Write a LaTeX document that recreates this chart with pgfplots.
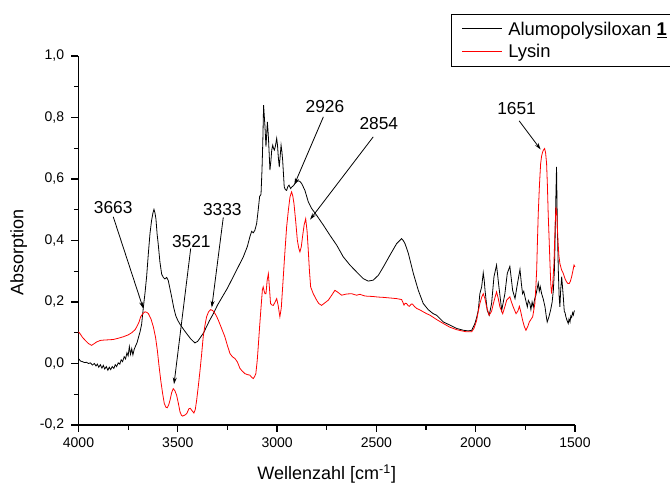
\documentclass[border=0pt]{standalone}
\usepackage{pgfplots}
\pgfplotsset{compat=1.18}
\usepackage{fontspec}
\setmainfont{Liberation Sans}
\usetikzlibrary{arrows.meta}

% spectra (wavenumber, absorption)
\pgfplotstableread{
wn A
4000 0.016
3995 0.012
3990 0.008
3980 0.006
3970 0.003
3960 0.004
3950 0.000
3940 0.002
3930 -0.005
3920 0.000
3912 -0.008
3905 -0.002
3898 -0.012
3890 -0.004
3882 -0.015
3875 -0.006
3868 -0.018
3860 -0.010
3852 -0.022
3845 -0.012
3838 -0.020
3830 -0.010
3822 -0.016
3815 -0.004
3808 -0.010
3800 0.002
3792 -0.002
3785 0.012
3778 0.006
3770 0.022
3763 0.015
3756 0.035
3750 0.025
3744 0.055
3738 0.030
3732 0.048
3726 0.028
3720 0.045
3712 0.058
3705 0.068
3698 0.085
3690 0.103
3682 0.128
3674 0.179
3665 0.23
3657 0.282
3648 0.36
3640 0.423
3632 0.465
3625 0.49
3620 0.501
3615 0.49
3610 0.47
3604 0.42
3598 0.385
3590 0.33
3581 0.29
3573 0.28
3565 0.275
3556 0.28
3548 0.27
3540 0.245
3531 0.217
3520 0.18
3510 0.155
3500 0.14
3489 0.128
3470 0.11
3455 0.097
3435 0.08
3414 0.067
3400 0.072
3388 0.083
3370 0.10
3355 0.12
3340 0.14
3321 0.162
3300 0.19
3271 0.222
3250 0.245
3221 0.282
3195 0.315
3170 0.347
3150 0.38
3137 0.412
3128 0.43
3120 0.425
3112 0.433
3103 0.455
3095 0.50
3088 0.543
3081 0.55
3076 0.63
3072 0.72
3068 0.84
3064 0.80
3061 0.77
3056 0.705
3052 0.75
3049 0.786
3046 0.76
3043 0.726
3036 0.629
3031 0.66
3027 0.694
3022 0.71
3018 0.70
3014 0.694
3009 0.705
3002 0.732
2998 0.71
2994 0.672
2989 0.639
2985 0.67
2980 0.71
2976 0.69
2972 0.661
2964 0.574
2958 0.565
2952 0.563
2946 0.575
2940 0.580
2932 0.569
2926 0.574
2918 0.578
2910 0.585
2900 0.592
2893 0.594
2885 0.592
2876 0.585
2860 0.563
2843 0.526
2826 0.504
2801 0.482
2767 0.450
2734 0.417
2700 0.385
2667 0.347
2633 0.320
2600 0.298
2580 0.285
2566 0.276
2541 0.268
2516 0.271
2490 0.287
2465 0.314
2432 0.352
2398 0.390
2373 0.406
2365 0.400
2356 0.390
2339 0.358
2314 0.293
2289 0.238
2264 0.195
2239 0.175
2214 0.162
2197 0.157
2180 0.146
2163 0.135
2130 0.125
2096 0.114
2062 0.108
2037 0.106
2020 0.108
2004 0.130
1995 0.15
1987 0.173
1979 0.227
1970 0.249
1962 0.295
1957 0.27
1953 0.238
1942 0.173
1932 0.157
1920 0.195
1908 0.282
1895 0.320
1883 0.249
1869 0.173
1853 0.227
1841 0.293
1828 0.316
1814 0.238
1802 0.211
1791 0.255
1777 0.306
1770 0.26
1764 0.227
1758 0.235
1752 0.217
1746 0.200
1740 0.184
1735 0.205
1727 0.195
1722 0.175
1716 0.20
1710 0.184
1703 0.21
1697 0.222
1690 0.245
1685 0.262
1680 0.235
1675 0.25
1668 0.227
1660 0.21
1651 0.184
1645 0.155
1640 0.135
1632 0.15
1623 0.173
1615 0.20
1609 0.238
1604 0.30
1601 0.379
1597 0.52
1593 0.639
1589 0.45
1584 0.303
1580 0.22
1576 0.184
1572 0.24
1567 0.282
1563 0.25
1559 0.217
1554 0.17
1550 0.165
1546 0.152
1540 0.14
1534 0.130
1530 0.145
1525 0.135
1521 0.155
1517 0.150
1512 0.165
1508 0.158
1505 0.168
1502 0.172
}\alumo

\pgfplotstableread{
wn A
4000 0.103
3990 0.095
3980 0.085
3967 0.076
3950 0.065
3934 0.059
3920 0.065
3909 0.070
3890 0.075
3875 0.076
3850 0.077
3825 0.078
3800 0.082
3774 0.087
3750 0.093
3732 0.100
3715 0.11
3707 0.119
3695 0.135
3687 0.152
3675 0.163
3665 0.168
3655 0.166
3648 0.162
3635 0.145
3623 0.119
3612 0.085
3603 0.043
3595 -0.005
3586 -0.054
3577 -0.095
3568 -0.130
3560 -0.142
3553 -0.144
3546 -0.135
3539 -0.119
3531 -0.095
3523 -0.082
3515 -0.088
3506 -0.103
3497 -0.13
3489 -0.157
3482 -0.168
3476 -0.171
3465 -0.168
3455 -0.163
3444 -0.147
3437 -0.146
3430 -0.152
3419 -0.161
3412 -0.15
3405 -0.119
3396 -0.07
3388 -0.022
3380 0.03
3372 0.087
3363 0.125
3355 0.152
3345 0.168
3335 0.175
3326 0.173
3318 0.168
3306 0.155
3296 0.141
3280 0.115
3263 0.087
3250 0.058
3237 0.032
3225 0.022
3212 0.016
3200 0.005
3187 -0.016
3175 -0.025
3162 -0.033
3150 -0.036
3137 -0.038
3128 -0.045
3120 -0.049
3113 -0.042
3107 -0.033
3100 0.01
3095 0.054
3088 0.12
3080 0.19
3074 0.24
3070 0.249
3065 0.235
3061 0.227
3056 0.227
3050 0.27
3044 0.292
3039 0.25
3033 0.195
3026 0.19
3019 0.189
3010 0.20
3002 0.211
2995 0.19
2986 0.152
2979 0.18
2972 0.249
2962 0.35
2952 0.444
2943 0.50
2935 0.542
2927 0.558
2921 0.545
2915 0.520
2906 0.46
2898 0.401
2891 0.375
2885 0.363
2878 0.38
2872 0.412
2864 0.45
2856 0.471
2849 0.43
2843 0.368
2837 0.30
2831 0.249
2818 0.227
2800 0.205
2790 0.195
2776 0.189
2760 0.197
2742 0.206
2725 0.222
2709 0.238
2695 0.232
2675 0.222
2650 0.226
2625 0.227
2600 0.222
2583 0.225
2560 0.220
2549 0.219
2520 0.218
2490 0.216
2465 0.215
2430 0.213
2398 0.211
2373 0.208
2366 0.198
2361 0.190
2355 0.196
2348 0.195
2340 0.188
2334 0.186
2325 0.193
2318 0.193
2308 0.185
2297 0.179
2280 0.174
2264 0.168
2247 0.162
2230 0.157
2197 0.143
2163 0.130
2130 0.118
2096 0.110
2070 0.106
2046 0.103
2020 0.103
2008 0.115
1995 0.141
1987 0.17
1979 0.195
1970 0.215
1962 0.227
1953 0.21
1945 0.184
1932 0.157
1920 0.17
1911 0.195
1895 0.233
1886 0.21
1878 0.184
1864 0.162
1853 0.185
1844 0.206
1828 0.217
1820 0.20
1811 0.184
1797 0.162
1788 0.17
1780 0.186
1772 0.165
1764 0.141
1755 0.12
1747 0.108
1738 0.12
1730 0.135
1713 0.152
1702 0.195
1697 0.25
1693 0.303
1689 0.40
1685 0.488
1679 0.58
1673 0.650
1668 0.675
1663 0.688
1658 0.695
1653 0.699
1648 0.685
1643 0.650
1639 0.58
1635 0.488
1630 0.40
1626 0.325
1622 0.26
1618 0.227
1612 0.26
1606 0.325
1601 0.43
1596 0.509
1591 0.48
1586 0.401
1581 0.35
1576 0.325
1568 0.305
1559 0.293
1550 0.275
1542 0.265
1535 0.260
1529 0.260
1523 0.268
1517 0.282
1511 0.300
1505 0.320
1500 0.314
}\lysin

\begin{document}
\begin{tikzpicture}
\useasboundingbox (0,0) rectangle (502.5pt,363pt);
\begin{axis}[
    at={(58.875pt,44.25pt)}, anchor=south west,
    scale only axis,
    width=372.375pt, height=276.75pt,
    x dir=reverse,
    xmin=1500, xmax=4000,
    ymin=-0.2, ymax=1.0,
    axis lines*=left,
    axis line style={line width=1pt},
    tick align=outside,
    tick style={line width=0.9pt, black},
    major tick length=5.25pt,
    minor tick length=3.5pt,
    xtick={1500,2000,2500,3000,3500,4000},
    minor x tick num=1,
    ytick={-0.2,0,0.2,0.4,0.6,0.8,1.0},
    minor y tick num=1,
    /pgf/number format/assume math mode=true,
    xticklabel style={font=\fontsize{10.5}{12}\selectfont,
        /pgf/number format/1000 sep={}, yshift=-1pt},
    yticklabel style={font=\fontsize{10.5}{12}\selectfont,
        /pgf/number format/use comma,
        /pgf/number format/fixed,
        /pgf/number format/fixed zerofill,
        /pgf/number format/precision=1, xshift=-2pt},
    xlabel={Wellenzahl [cm\textsuperscript{-1}]},
    ylabel={Absorption},
    label style={font=\fontsize{13.5}{16}\selectfont},
    xlabel style={at={(axis description cs:0.5,-0.149)}, anchor=base},
    ylabel style={at={(axis description cs:-0.111,0.467)}, anchor=base},
    clip=false,
]
\addplot[black, line width=0.6pt] table[x=wn, y=A] {\alumo};
\addplot[red, line width=0.6pt] table[x=wn, y=A] {\lysin};

% peak annotations
\begin{scope}[every node/.style={font=\fontsize{13}{15}\selectfont}]
\node at (axis cs:3825,0.507) {3663};
\node at (axis cs:3432,0.398) {3521};
\node at (axis cs:3276,0.501) {3333};
\node at (axis cs:2759,0.836) {2926};
\node at (axis cs:2488,0.779) {2854};
\node at (axis cs:1794,0.829) {1651};
\end{scope}
\begin{scope}[line width=0.6pt, -{Stealth[length=5pt,width=3pt]}]
\draw (axis cs:3825,0.477) -- (axis cs:3674,0.179);
\draw (axis cs:3435,0.374) -- (axis cs:3519,-0.067);
\draw (axis cs:3271,0.475) -- (axis cs:3329,0.182);
\draw (axis cs:2767,0.802) -- (axis cs:2913,0.582);
\draw (axis cs:2516,0.737) -- (axis cs:2834,0.468);
\draw (axis cs:1781,0.789) -- (axis cs:1673,0.696);
\end{scope}
\end{axis}

% legend box, top right outside the axis
\draw[line width=0.7pt] (338.8pt,313.5pt) rectangle (504pt,352.3pt);
\draw[black, line width=0.6pt] (346.5pt,341.8pt) -- (376.5pt,341.8pt);
\draw[red, line width=0.6pt] (346.5pt,324.75pt) -- (376.5pt,324.75pt);
\begin{scope}[every node/.style={font=\fontsize{13.8}{16}\selectfont, inner sep=0pt, anchor=base west}]
\node at (381pt,336.2pt) {Alumopolysiloxan \underline{\textbf{1}}};
\node at (381pt,319.7pt) {Lysin};
\end{scope}
\end{tikzpicture}
\end{document}
